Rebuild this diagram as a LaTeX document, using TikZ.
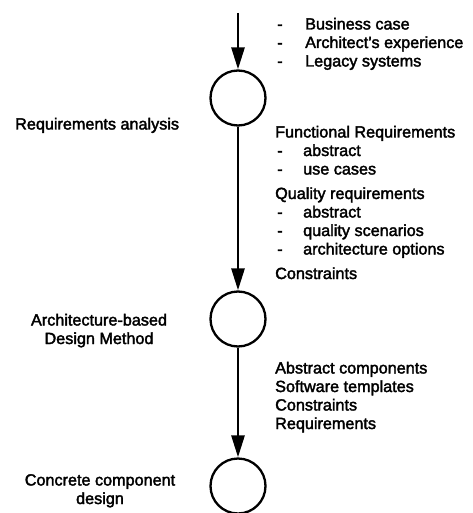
\documentclass[tikz,border=0pt]{standalone}
\usepackage{fontspec}
\setmainfont{Liberation Sans}[FakeBold=2.2]
\usetikzlibrary{arrows.meta}

\tikzset{
  stage/.style={circle, draw, line width=2.3pt, minimum size=55pt, inner sep=0pt},
  flow/.style={line width=2.8pt, -{Triangle[width=13pt,length=22pt]}},
  txt/.style={inner sep=0pt, font=\fontsize{16.2}{18.5}\selectfont},
}

\begin{document}
\begin{tikzpicture}[x=1pt,y=1pt]
  \useasboundingbox (0,0) rectangle (472,-513);

  % process stages
  \coordinate (start) at (238,-13);
  \node[stage] (c1) at (238,-98) {};
  \node[stage] (c2) at (238,-319) {};
  \node[stage] (c3) at (238,-486) {};

  \draw[flow] (start) -- (c1);
  \draw[flow] (c1) -- (c2);
  \draw[flow] (c2) -- (c3);

  % inputs to the first stage
  \node[txt, anchor=base west] (inputs) at (277,-29.5) {%
    \begin{tabular}[t]{@{}p{28pt}@{}l@{}}
      - & Business case\\
      - & Architect's experience\\
      - & Legacy systems
    \end{tabular}};

  % stage names
  \node[txt, anchor=base west] (reqan) at (15,-129.5) {Requirements analysis};
  \node[txt, anchor=base] (abdm) at (99,-325.5) {%
    \begin{tabular}[t]{@{}c@{}}
      Architecture-based\\
      Design Method
    \end{tabular}};
  \node[txt, anchor=base] (ccd) at (100,-485.5) {%
    \begin{tabular}[t]{@{}c@{}}
      Concrete component\\
      design
    \end{tabular}};

  % outputs of requirements analysis
  \node[txt, anchor=base west] (reqout) at (275,-137.5) {%
    \begin{tabular}[t]{@{}p{28pt}@{}l@{}}
      \multicolumn{2}{@{}l@{}}{Functional Requirements}\\
      \hspace*{2pt}- & abstract\\
      \hspace*{2pt}- & use cases\\[6pt]
      \multicolumn{2}{@{}l@{}}{Quality requirements}\\
      \hspace*{2pt}- & abstract\\
      \hspace*{2pt}- & quality scenarios\\
      \hspace*{2pt}- & architecture options\\[6pt]
      \multicolumn{2}{@{}l@{}}{Constraints}
    \end{tabular}};

  % outputs of the design method
  \node[txt, anchor=base west] (abdmout) at (275,-373.5) {%
    \begin{tabular}[t]{@{}l@{}}
      Abstract components\\
      Software templates\\
      Constraints\\
      Requirements
    \end{tabular}};
\end{tikzpicture}
\end{document}
